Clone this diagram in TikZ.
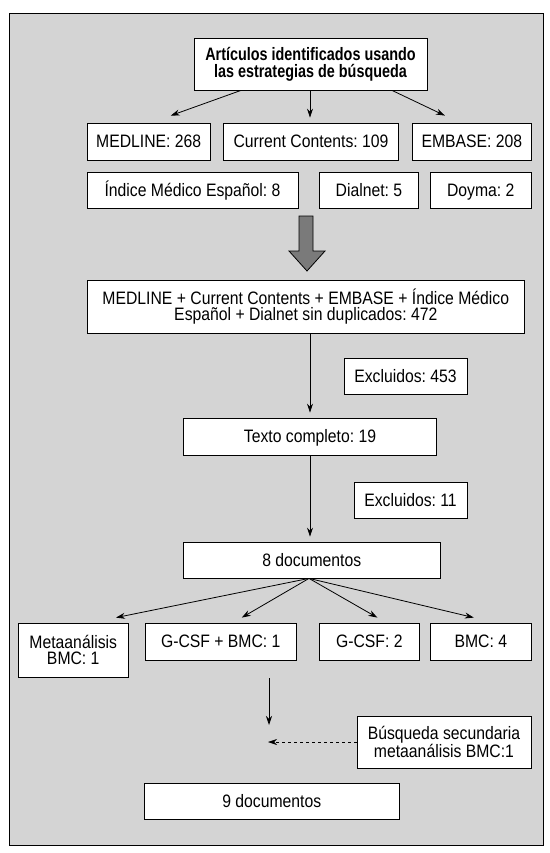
\documentclass[tikz,border=0pt]{standalone}
\usepackage{fontspec}
\setmainfont{Liberation Sans}[FakeStretch=0.875]
\newfontfamily\titlefont{Liberation Sans}[FakeStretch=0.8]
\usetikzlibrary{arrows.meta}
\frenchspacing

\definecolor{framegray}{RGB}{212,212,212}
\definecolor{arrowgray}{RGB}{122,122,122}

\begin{document}
\begin{tikzpicture}[x=1pt, y=-1pt, line width=0.8pt,
    >={Stealth[length=9pt, width=6pt]},
    font=\fontsize{18}{16.8}\selectfont,
    box/.style={draw, fill=white, inner sep=0pt, minimum height=37pt},
    onerow/.style={box, text height=12.9pt, text depth=0pt},
    tworow/.style={box, align=center}]

  % --- 1. marco ---
  \useasboundingbox (0,0) rectangle (549,853);
  \draw[fill=framegray] (9,13) rectangle (543,845);

  % --- 2. búsqueda y bases de datos ---
  \node[tworow, minimum width=233pt, minimum height=52pt,
    font=\titlefont\bfseries\fontsize{18}{17.3}\selectfont] (search) at (310.5,64)
    {Artículos identificados usando\\las estrategias de búsqueda};

  \node[onerow, minimum width=123.5pt] (medline) at (148.75,141.5) {MEDLINE: 268};
  \node[onerow, minimum width=175pt]   (current) at (311,141.5) {Current Contents: 109};
  \node[onerow, minimum width=118.3pt] (embase)  at (471.9,141.5) {EMBASE: 208};

  \node[onerow, minimum width=211pt, minimum height=36pt]   (indice)  at (192.5,190) {Índice Médico Español: 8};
  \node[onerow, minimum width=99.7pt, minimum height=36pt]  (dialnet) at (368.9,190) {Dialnet: 5};
  \node[onerow, minimum width=100.4pt, minimum height=36pt] (doyma)   at (480.8,190) {Doyma: 2};

  \draw[->] ([xshift=-69.5pt]search.south) -- ([xshift=22pt, yshift=7pt]medline.north);
  \draw[->] ([xshift=-0.5pt]search.south) -- ([xshift=-1pt, yshift=5pt]current.north);
  \draw[->] ([xshift=81.5pt]search.south) -- ([xshift=-27pt, yshift=7pt]embase.north);

  % flecha gruesa
  \filldraw[fill=arrowgray] (299,216) -- (313,216) -- (313,251) -- (325,251)
    -- (307,271) -- (289,251) -- (299,251) -- cycle;

  % --- 3. cribado ---
  \node[tworow, minimum width=437.6pt, minimum height=53pt] (union) at (305.8,306.5)
    {MEDLINE + Current Contents + EMBASE + Índice Médico\\Español + Dialnet sin duplicados: 472};

  \node[onerow, minimum width=123pt, minimum height=36pt] (excl1) at (405.5,376) {Excluidos: 453};
  \node[onerow, minimum width=253pt] (texto) at (310,436.5) {Texto completo: 19};
  \node[onerow, minimum width=113pt, minimum height=36pt] (excl2) at (410.5,500) {Excluidos: 11};
  \node[onerow, minimum width=256.5pt, minimum height=36pt] (docs8) at (311.75,560) {8 documentos};

  \draw[->] (texto.north |- union.south) -- ([yshift=5pt]texto.north);
  \draw[->] (texto.south) -- ([xshift=-1.75pt, yshift=5pt]docs8.north);

  % --- 4. tipos de estudio ---
  \node[tworow, minimum width=110.5pt, minimum height=54pt] (meta) at (73.25,650) {Metaanálisis\\BMC: 1};
  \node[onerow, minimum width=151.5pt] (gcsfbmc) at (220.75,641.5) {G-CSF + BMC: 1};
  \node[onerow, minimum width=100.7pt] (gcsf)    at (369.35,641.5) {G-CSF: 2};
  \node[onerow, minimum width=100.4pt] (bmc)     at (480.8,641.5) {BMC: 4};

  \draw[->] ([xshift=-2.75pt]docs8.south) -- ([xshift=42.75pt, yshift=5pt]meta.north);
  \draw[->] ([xshift=-2.75pt]docs8.south) -- ([xshift=21pt, yshift=5pt]gcsfbmc.north);
  \draw[->] ([xshift=-2.75pt]docs8.south) -- ([xshift=8pt, yshift=5pt]gcsf.north);
  \draw[->] ([xshift=-2.75pt]docs8.south) -- ([xshift=-7pt, yshift=5pt]bmc.north);

  % --- 5. búsqueda secundaria ---
  \node[tworow, minimum width=174pt, minimum height=52pt] (second) at (444,742)
    {Búsqueda secundaria\\metaanálisis BMC:1};
  \node[onerow, minimum width=255.6pt, minimum height=36pt] (docs9) at (271.8,801) {9 documentos};

  \coordinate (gaptop) at (269,678);
  \coordinate (gapend) at (269,725);
  \coordinate (merge)  at (268,742);
  \draw[->] (gaptop) -- (gapend);
  \draw[->, dashed, line width=0.6pt] (second.west) -- (merge);

\end{tikzpicture}
\end{document}
